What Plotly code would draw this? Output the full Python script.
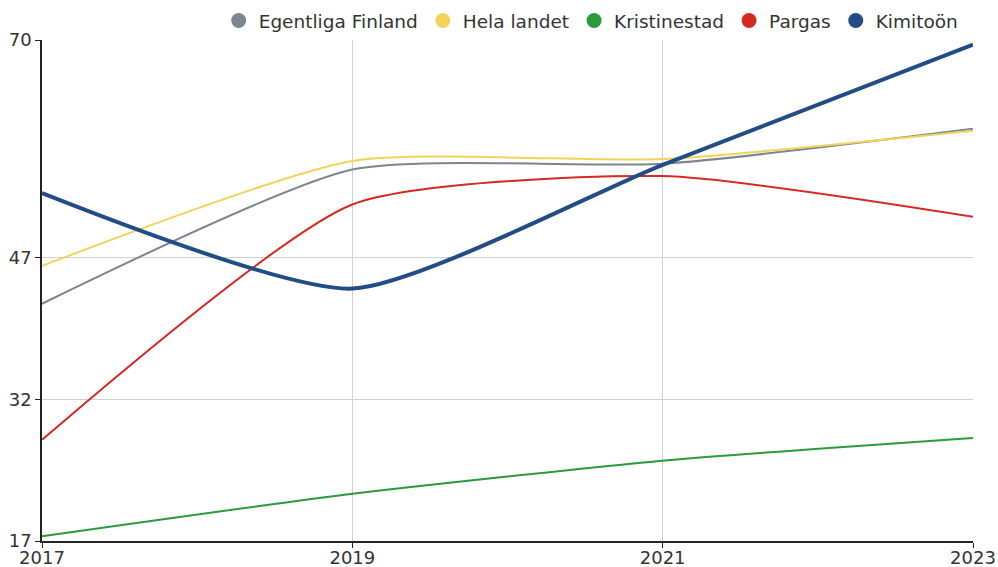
import plotly.graph_objects as go

# data
years = [2017, 2019, 2021, 2023]
egentliga_finland = [42.1, 56.3, 56.9, 60.6]
hela_landet = [46.1, 57.2, 57.4, 60.4]
kristinestad = [17.5, 22.0, 25.5, 27.9]
pargas = [27.7, 52.6, 55.6, 51.3]
kimitoon = [53.8, 43.7, 56.8, 69.5]

y_ticks = [17, 32, 47, 70]
x_ticks = [2017, 2019, 2021, 2023]

series = [
    ("Egentliga Finland", egentliga_finland, "#7d8591", 2),
    ("Hela landet", hela_landet, "#f2d35a", 2),
    ("Kristinestad", kristinestad, "#2a9a3c", 2),
    ("Pargas", pargas, "#d42a24", 2),
    ("Kimitoön", kimitoon, "#224c85", 4),
]

fig = go.Figure()

# lines (Kimitoön last so it sits on top)
for name, vals, col, w in series:
    fig.add_trace(go.Scatter(x=years, y=vals, mode="lines",
                             line=dict(color=col, width=w, shape="spline", smoothing=0.6),
                             name=name, showlegend=False, hoverinfo="x+y+name"))

# circle markers for the legend only
for name, vals, col, w in series:
    fig.add_trace(go.Scatter(x=[None], y=[None], mode="markers",
                             marker=dict(color=col, size=15, symbol="circle"),
                             name=name, showlegend=True))

fig.update_layout(
    width=998, height=567,
    margin=dict(l=42, r=25, t=40, b=26, autoexpand=False),
    paper_bgcolor="white", plot_bgcolor="white",
    font=dict(family="DejaVu Sans", size=18, color="#333333"),
    legend=dict(orientation="h", x=0.99, xanchor="right", y=1.0, yanchor="bottom",
                font=dict(size=18.5), itemwidth=30, tracegroupgap=0,
                bgcolor="rgba(0,0,0,0)"),
    xaxis=dict(range=[2017, 2023], tickvals=x_ticks, ticktext=[str(t) for t in x_ticks],
               showgrid=True, gridcolor="#d0d0d0", gridwidth=1,
               showline=True, linecolor="#222222", linewidth=1.5,
               ticks="outside", ticklen=5, tickcolor="#222222",
               ticklabelstandoff=-5,
               zeroline=False, fixedrange=True, automargin=False),
    yaxis=dict(range=[17, 70], tickvals=y_ticks,
               showgrid=True, gridcolor="#d0d0d0", gridwidth=1,
               showline=True, linecolor="#222222", linewidth=1.5,
               ticks="outside", ticklen=5, tickcolor="#222222",
               zeroline=False, fixedrange=True, automargin=False),
)

# drop the default page margin so the figure sits at the window corner
fig.write_html("out.html", config={"displayModeBar": False},
               post_script="document.body.style.margin='0';")
